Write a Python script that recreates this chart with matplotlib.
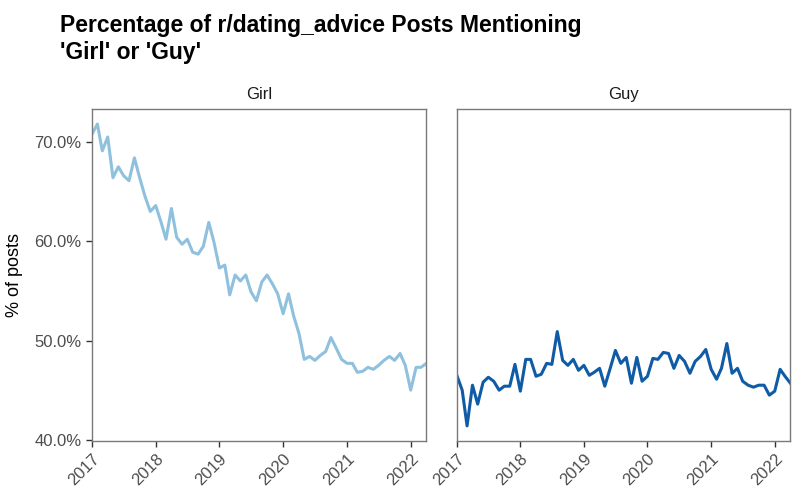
# Доля постов r/dating_advice с упоминанием 'Girl' и 'Guy' по месяцам

import pandas as pd
import numpy as np
import matplotlib
matplotlib.use('Agg')
import matplotlib.pyplot as plt
import matplotlib.dates as mdates
from matplotlib.ticker import FuncFormatter

plt.rcParams['font.family'] = ['Liberation Sans', 'DejaVu Sans']

months = pd.date_range('2017-01-01', periods=64, freq='MS')

girl = [70.8, 71.8, 69.1, 70.5, 66.4, 67.5, 66.6, 66.1, 68.4, 66.4, 64.5, 63.0,
        63.6, 61.9, 60.2, 63.3, 60.4, 59.7, 60.2, 58.9, 58.7, 59.5, 61.9, 59.9,
        57.3, 57.6, 54.6, 56.6, 56.0, 56.6, 54.9, 54.0, 55.9, 56.6, 55.7, 54.7,
        52.7, 54.7, 52.5, 50.7, 48.1, 48.4, 48.0, 48.5, 48.9, 50.3, 49.2, 48.1,
        47.7, 47.7, 46.8, 46.9, 47.3, 47.1, 47.5, 48.0, 48.4, 48.0, 48.7, 47.5,
        45.0, 47.3, 47.3, 47.7]

guy = [46.5, 45.0, 41.4, 45.5, 43.6, 45.8, 46.3, 45.9, 45.0, 45.4, 45.4, 47.6,
       44.9, 48.1, 48.1, 46.4, 46.6, 47.7, 47.6, 50.9, 48.0, 47.5, 48.1, 47.0,
       47.5, 46.5, 46.8, 47.2, 45.4, 47.2, 49.0, 47.7, 48.3, 45.7, 48.3, 45.9,
       46.4, 48.2, 48.1, 48.8, 48.7, 47.2, 48.5, 47.9, 46.7, 47.9, 48.4, 49.1,
       47.1, 46.1, 47.2, 49.7, 46.7, 47.2, 45.9, 45.5, 45.3, 45.5, 45.5, 44.5,
       44.9, 47.1, 46.4, 45.7]

panels = ['Girl', 'Guy']
colors = ['#8fc1de', '#0f5ba6']
series = [girl, guy]

# общая шкала y как в facet_wrap: диапазон + 5%
lo = min(min(girl), min(guy))
hi = max(max(girl), max(guy))
pad = (hi - lo) * 0.05

fig = plt.figure(figsize=(8, 5), dpi=100)
axes = [fig.add_axes([0.115, 0.118, 0.418, 0.664]),
        fig.add_axes([0.571, 0.118, 0.417, 0.664])]

for k, ax in enumerate(axes):
    ax.plot(months, series[k], color=colors[k], linewidth=2.2)
    ax.set_xlim(months[0], months[-1])
    ax.set_ylim(lo - pad, hi + pad)
    ax.set_yticks([40, 50, 60, 70])
    ax.yaxis.set_major_formatter(FuncFormatter(lambda v, p: f'{v:.1f}%'))
    ax.xaxis.set_major_locator(mdates.YearLocator())
    ax.xaxis.set_major_formatter(mdates.DateFormatter('%Y'))
    for s in ax.spines.values():
        s.set_color('#7a7a7a')
        s.set_linewidth(1.0)
    ax.tick_params(length=4, width=1.0, color='#333333', labelsize=12, labelcolor='#4d4d4d')
    plt.setp(ax.get_xticklabels(), rotation=45, ha='right', rotation_mode='anchor')
    ax.set_title(panels[k], fontsize=12, color='#1a1a1a', pad=7)

axes[1].tick_params(axis='y', left=False, labelleft=False)
axes[0].set_ylabel('% of posts', fontsize=13, labelpad=8)

fig.text(0.075, 0.972, "Percentage of r/dating_advice Posts Mentioning\n'Girl' or 'Guy'",
         fontsize=16.5, fontweight='bold', va='top', ha='left', linespacing=1.2)

fig.savefig('out.png', dpi=100)
